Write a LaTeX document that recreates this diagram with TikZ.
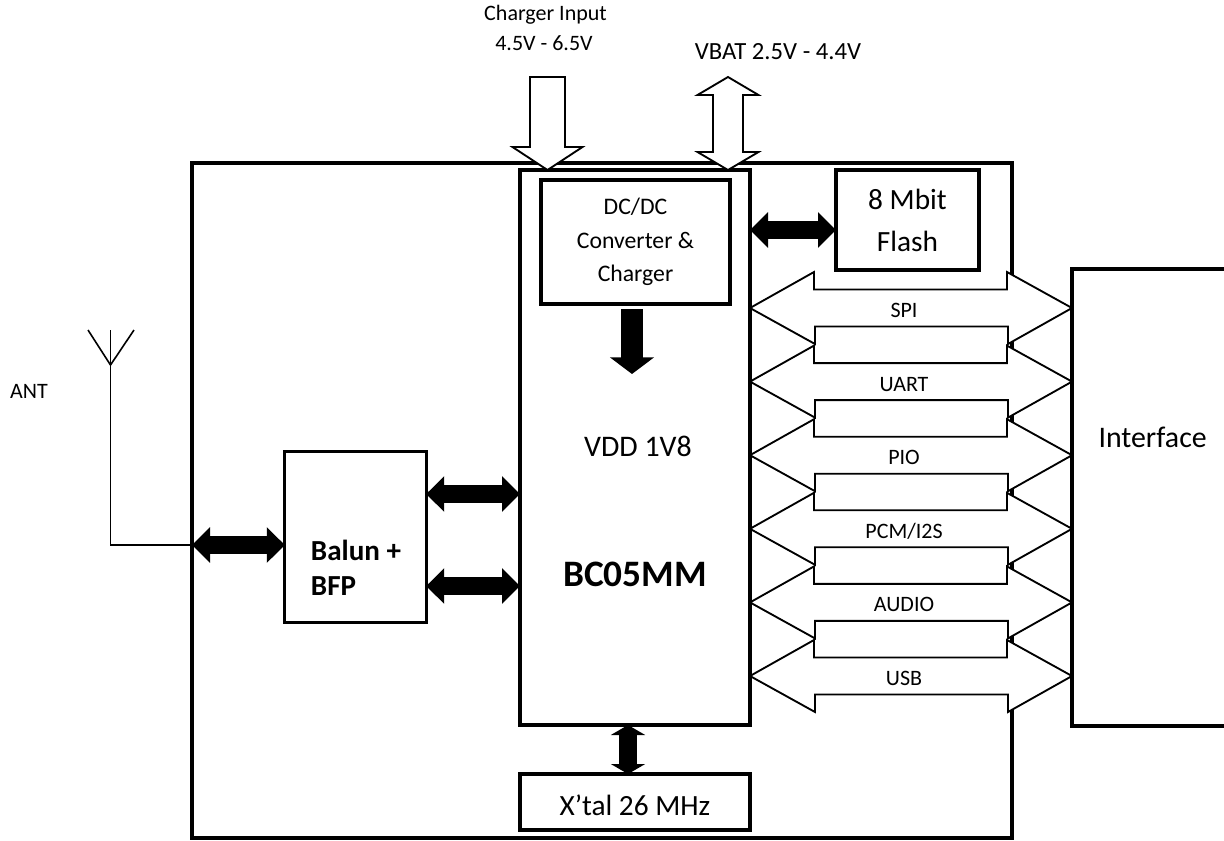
\documentclass[tikz,border=0pt]{standalone}
\usepackage{fontspec}
\setmainfont{Carlito}
\usetikzlibrary{arrows.meta}

\tikzset{
	heavybox/.style={draw, line width=3pt, fill=white, inner sep=0pt, outer sep=0pt, align=center},
	thinbox/.style={draw, line width=2.4pt, fill=white, inner sep=0pt, outer sep=0pt, align=center},
	hollow/.style={draw, line width=1.4pt, fill=white, line join=miter},
	blackarrow/.style={line width=13pt, {Triangle[length=13.5pt,width=26pt]}-{Triangle[length=13.5pt,width=26pt]}},
	wire/.style={line width=1.2pt},
	smalltext/.style={font=\fontsize{16.5}{16.5}\selectfont},
}

\begin{document}
\begin{tikzpicture}[x=0.75pt, y=-0.75pt]
		\useasboundingbox (0,0) rectangle (1224,840);
		
		% Outer board
		\node[heavybox, minimum width=615pt, minimum height=506.25pt] (board) at (602,500.5) {};
		
		% Blocks
		\node[thinbox, minimum width=172.5pt, minimum height=416.25pt] (bc) at (635,447.5) {};
		\node[heavybox, minimum width=141.75pt, minimum height=93pt, font=\fontsize{17.8}{25}\selectfont] (dcdc) at (635.5,242) {DC/DC\\Converter \&\\Charger};
		\node[heavybox, minimum width=107.25pt, minimum height=75pt, font=\fontsize{22}{31.5}\selectfont] (flash) at (907.5,220) {8 Mbit\\Flash};
		\node[thinbox, minimum width=106pt, minimum height=128.25pt] (balun) at (355.5,536.7) {};
		\node[heavybox, minimum width=172.5pt, minimum height=42pt] (xtal) at (635,802) {};
		\node[heavybox, minimum width=120pt, minimum height=342.75pt] (iface) at (1152,497.5) {};
		
		% Texts of the blocks
		\node[font=\fontsize{21.8}{26}\selectfont\bfseries, align=left] (balunlabel) at (356,568) {Balun +\\BFP};
		\node[font=\fontsize{22}{22}\selectfont] (xtallabel) at (635,805) {X’tal 26 MHz};
		\node[font=\fontsize{22.4}{22.4}\selectfont] (ifacelabel) at (1152.6,437) {Interface};
		\node[font=\fontsize{22.4}{22.4}\selectfont] (vdd) at (638,446) {VDD 1V8};
		\node[font=\fontsize{28}{28}\selectfont\bfseries] (chip) at (635,574) {BC05MM};
		
		% Interface buses
		\foreach \y/\t [count=\i] in {308/SPI,381.6/UART,455.2/PIO,528.8/PCM\slash I2S,602.4/AUDIO,676/USB} {
			\coordinate (busl\i) at (bc.east |- 0,\y);
			\draw[hollow] (busl\i) -- ++(64,-36) -- ++(0,17.5) -- ++(193,0) -- ++(0,-17.5) -- (iface.west |- busl\i) -- ++(-64,36) -- ++(0,-17.5) -- ++(-193,0) -- ++(0,17.5) -- cycle;
			\node[smalltext] (buslabel\i) at (904,\y+2.5) {\t};
		}
		
		% Power input arrows
		\coordinate (chargertip) at (bc.north -| 547.5,0);
		\draw[hollow] (chargertip) -- ++(-35,-23) -- ++(17.5,0) -- ++(0,-70) -- ++(35,0) -- ++(0,70) -- ++(17.5,0) -- cycle;
		\coordinate (vbattip) at (bc.north -| 728,0);
		\draw[hollow] (vbattip) -- ++(-30.5,-18) -- ++(15.5,0) -- ++(0,-57) -- ++(-15.5,0) -- ++(30.5,-18) -- ++(30.5,18) -- ++(-15.5,0) -- ++(0,57) -- ++(15.5,0) -- cycle;
		
		% Top labels
		\node[smalltext] (chargerlabel) at (545.5,15) {Charger Input};
		\node[smalltext] (chargerrange) at (544,43.5) {4.5V - 6.5V};
		\node[font=\fontsize{18.5}{18.5}\selectfont] (vbatlabel) at (778,52) {VBAT 2.5V - 4.4V};
		\node[smalltext] (antlabel) at (29,391) {ANT};
		
		% Black arrows
		\draw[blackarrow] (bc.east |- 0,230) -- (flash.west |- 0,230);
		\draw[blackarrow] (balun.east |- 0,494) -- (bc.west |- 0,494);
		\draw[blackarrow] (balun.east |- 0,586) -- (bc.west |- 0,586);
		\draw[blackarrow] (board.west |- 0,545) -- (balun.west |- 0,545);
		\draw[line width=14pt, {Triangle[length=7.5pt,width=25.5pt]}-{Triangle[length=7.5pt,width=25.5pt]}] (xtal.north -| 628,0) -- (bc.south -| 628,0);
		\draw[line width=16.7pt, -{Triangle[length=12.5pt,width=32.5pt]}] (632,309) -- (632,374);
		
		% Antenna
		\coordinate (feed) at (110.5,365);
		\draw[wire] (board.west |- 0,545) -| (feed);
		\draw[wire] (feed) -- (110.5,330);
		\draw[wire] (88,330) -- (feed) -- (134,330);
		
	\end{tikzpicture}
\end{document}
